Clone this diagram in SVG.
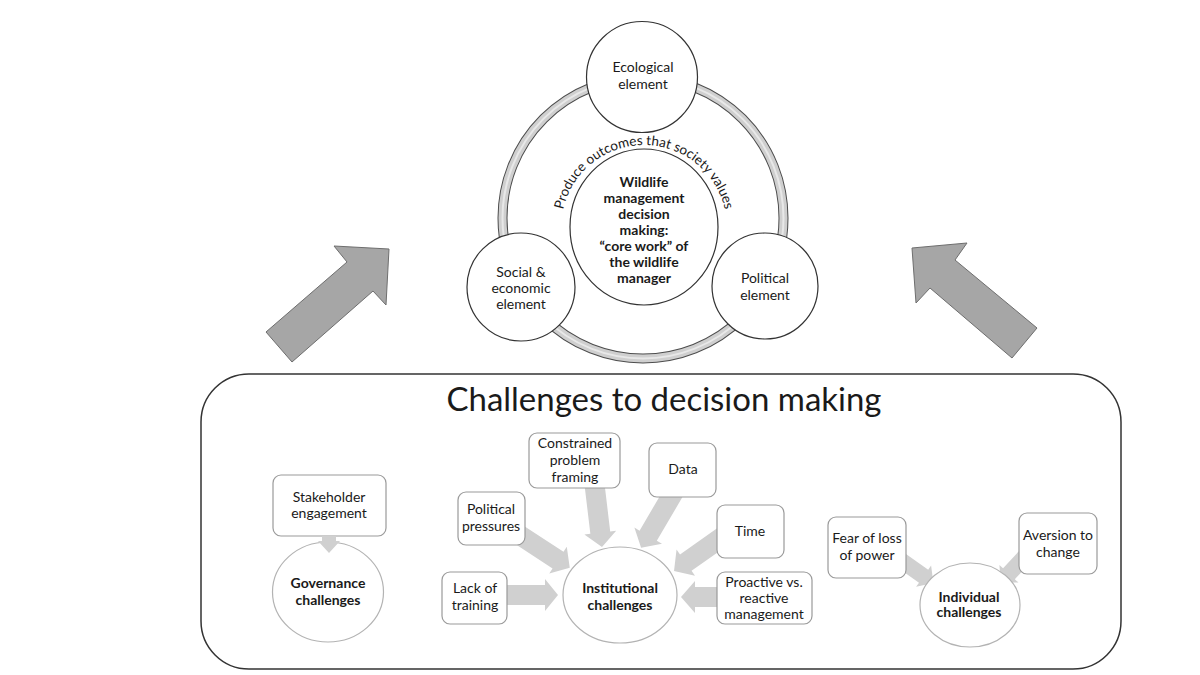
<svg xmlns="http://www.w3.org/2000/svg" width="1200" height="675" viewBox="0 0 1200 675">
  <style>
    .t { font-family: Lato, "Open Sans", "Liberation Sans", sans-serif; font-size: 14px; fill: #1a1a1a; text-anchor: middle; }
    .b { font-weight: bold; }
    .el { fill: #fff; stroke: #333; stroke-width: 1.2; }
    .box { fill: #fff; stroke: #9a9a9a; stroke-width: 1.2; }
    .ch { fill: #fff; stroke: #b3b3b3; stroke-width: 1.2; }
    .sa { fill: #d0d0d0; stroke: none; }
    .big { fill: #a6a6a6; stroke: #6e6e6e; stroke-width: 1; }
  </style>
  <defs>
    <path id="arcText" d="M 561 228 A 83 83 0 0 1 727 228"/>
  </defs>
  <rect width="1200" height="675" fill="#fff"/>

  <g id="connectors">
    <polygon class="big" points="266,332 347,262 334,246 389,249 386,305 373,291 292,362"/>
    <polygon class="big" points="912,248 967,243 955,260 1037,328 1012,358 930,288 916,303"/>
    <g transform="translate(500,595)"><polygon class="sa" points="0,-10 45,-10 45,-16 58,0 45,16 45,10 0,10"/></g>
    <g transform="translate(512,530) rotate(33.2)"><polygon class="sa" points="0,-10 55,-10 55,-16 69,0 55,16 55,10 0,10"/></g>
    <g transform="translate(594,480) rotate(83.2)"><polygon class="sa" points="0,-10 53,-10 53,-16 67.5,0 53,16 53,10 0,10"/></g>
    <g transform="translate(675,490) rotate(120.4)"><polygon class="sa" points="0,-10 53,-10 53,-16 67,0 53,16 53,10 0,10"/></g>
    <g transform="translate(725,535) rotate(144.8)"><polygon class="sa" points="0,-10 48,-10 48,-16 62.4,0 48,16 48,10 0,10"/></g>
    <g transform="translate(725,597) rotate(180)"><polygon class="sa" points="0,-10 30,-10 30,-16 44,0 30,16 30,10 0,10"/></g>
    <g transform="translate(895,556) rotate(35.2)"><polygon class="sa" points="0,-8 35,-8 35,-13 47,0 35,13 35,8 0,8"/></g>
    <g transform="translate(1030,551) rotate(132.8)"><polygon class="sa" points="0,-8 31,-8 31,-13 43,0 31,13 31,8 0,8"/></g>
  </g>

  <g id="ring">
    <circle cx="643" cy="218" r="140.5" fill="none" stroke="#4d4d4d" stroke-width="10"/>
    <circle cx="643" cy="218" r="140.5" fill="none" stroke="#cfcfcf" stroke-width="8"/>
    <circle cx="643" cy="218" r="140.5" fill="none" stroke="#e8e8e8" stroke-width="2"/>
  </g>

  <g id="core">
    <ellipse class="el" cx="644" cy="227" rx="74" ry="78"/>
    <text class="t b"><tspan x="644" y="187">Wildlife</tspan><tspan x="644" y="203">management</tspan><tspan x="644" y="219">decision</tspan><tspan x="644" y="235">making:</tspan><tspan x="644" y="251">“core work” of</tspan><tspan x="644" y="267">the wildlife</tspan><tspan x="644" y="283">manager</tspan></text>
  </g>

  <g id="arc-label">
    <text class="t" style="font-size:13.5px"><textPath href="#arcText" startOffset="50%">Produce outcomes that society values</textPath></text>
  </g>

  <g id="ecological">
    <circle class="el" cx="642" cy="77" r="55.5"/>
    <text class="t"><tspan x="643" y="72">Ecological</tspan><tspan x="643" y="89">element</tspan></text>
  </g>
  <g id="social">
    <circle class="el" cx="521" cy="287" r="54"/>
    <text class="t"><tspan x="521" y="277">Social &amp;</tspan><tspan x="521" y="293">economic</tspan><tspan x="521" y="309">element</tspan></text>
  </g>
  <g id="political">
    <circle class="el" cx="765" cy="286" r="53"/>
    <text class="t"><tspan x="765" y="283">Political</tspan><tspan x="765" y="300">element</tspan></text>
  </g>

  <g id="challenges-panel">
    <rect x="201" y="374" width="920" height="295" rx="48" ry="48" fill="none" stroke="#333" stroke-width="1.5"/>
    <text class="t" x="664" y="411" style="font-size:32px" textLength="435" lengthAdjust="spacingAndGlyphs">Challenges to decision making</text>
  </g>

  <g id="stakeholder">
    <rect class="box" x="273" y="475" width="113" height="61" rx="8"/>
    <text class="t"><tspan x="329" y="502">Stakeholder</tspan><tspan x="329" y="518">engagement</tspan></text>
  </g>
  <g id="governance">
    <ellipse class="ch" cx="328" cy="592" rx="55.5" ry="50"/>
    <text class="t b"><tspan x="328" y="588">Governance</tspan><tspan x="328" y="605">challenges</tspan></text>
  </g>
  <g id="stakeholder-arrow">
    <g transform="translate(329,536) rotate(90)"><polygon class="sa" points="0,-7 5,-7 5,-11 17,0 5,11 5,7 0,7"/></g>
  </g>

  <g id="political-pressures">
    <rect class="box" x="458" y="492" width="67" height="53" rx="8"/>
    <text class="t"><tspan x="491" y="514">Political</tspan><tspan x="491" y="531">pressures</tspan></text>
  </g>
  <g id="lack-of-training">
    <rect class="box" x="442" y="572" width="65" height="52" rx="8"/>
    <text class="t"><tspan x="475" y="593">Lack of</tspan><tspan x="475" y="610">training</tspan></text>
  </g>
  <g id="constrained">
    <rect class="box" x="529" y="433" width="91" height="55" rx="8"/>
    <text class="t"><tspan x="575" y="448">Constrained</tspan><tspan x="575" y="465">problem</tspan><tspan x="575" y="482">framing</tspan></text>
  </g>
  <g id="data">
    <rect class="box" x="649" y="443" width="67" height="54" rx="8"/>
    <text class="t" x="683" y="474">Data</text>
  </g>
  <g id="time">
    <rect class="box" x="717" y="505" width="67" height="53" rx="8"/>
    <text class="t" x="750" y="536">Time</text>
  </g>
  <g id="proactive">
    <rect class="box" x="717" y="572" width="95" height="52" rx="8"/>
    <text class="t"><tspan x="764" y="587">Proactive vs.</tspan><tspan x="764" y="603">reactive</tspan><tspan x="764" y="619">management</tspan></text>
  </g>
  <g id="institutional">
    <ellipse class="ch" cx="620" cy="595" rx="57" ry="48"/>
    <text class="t b"><tspan x="620" y="593">Institutional</tspan><tspan x="620" y="610">challenges</tspan></text>
  </g>

  <g id="fear">
    <rect class="box" x="828" y="517" width="78" height="61" rx="8"/>
    <text class="t"><tspan x="867" y="543">Fear of loss</tspan><tspan x="867" y="560">of power</tspan></text>
  </g>
  <g id="aversion">
    <rect class="box" x="1019" y="513" width="78" height="61" rx="8"/>
    <text class="t"><tspan x="1058" y="540">Aversion to</tspan><tspan x="1058" y="557">change</tspan></text>
  </g>
  <g id="individual">
    <ellipse class="ch" cx="970" cy="605" rx="50" ry="42"/>
    <text class="t b"><tspan x="969" y="602">Individual</tspan><tspan x="969" y="617">challenges</tspan></text>
  </g>
</svg>
